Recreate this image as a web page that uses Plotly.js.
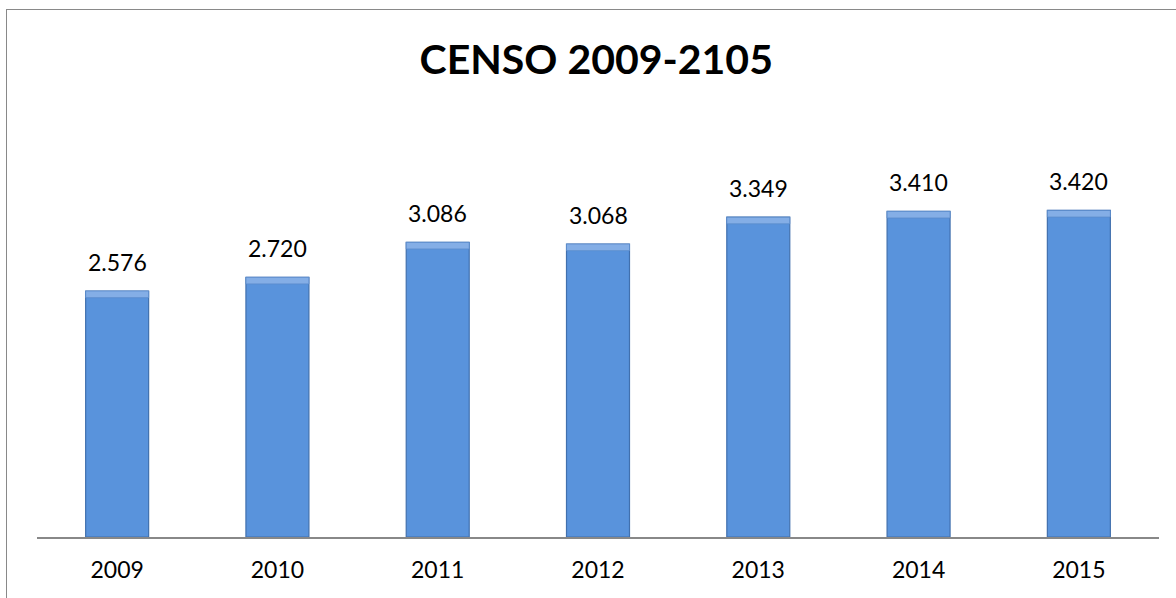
<!DOCTYPE html>
<html>
<head>
<meta charset="utf-8">
<script src="https://cdn.plot.ly/plotly-3.0.1.min.js"></script>
<style>
  html, body { margin: 0; padding: 0; background: #fff; }
  #chart { position: absolute; left: 0; top: 0; width: 1176px; height: 598px; }
  #frame { position: absolute; left: 6px; top: 9px; width: 1300px; height: 700px;
           border-left: 1.5px solid #898989; border-top: 1.5px solid #898989; pointer-events: none; }
</style>
</head>
<body>
<div id="chart"></div>
<div id="frame"></div>
<script>
const chartTitle = 'CENSO 2009-2105';
const years = ['2009', '2010', '2011', '2012', '2013', '2014', '2015'];
const censo = [2576, 2720, 3086, 3068, 3349, 3410, 3420];

function fmt(v) {
  return String(v).replace(/\B(?=(\d{3})+(?!\d))/g, '.');
}

const capSize = 70; // height of lighter bevel band, in data units
const bars = {
  type: 'bar', x: years, y: censo,
  marker: { color: '#5993DC', line: { color: '#4170AE', width: 1.2 } },
  hoverinfo: 'x+y', showlegend: false
};
const caps = {
  type: 'bar', x: years, y: censo.map(() => capSize), base: censo.map(v => v - capSize),
  marker: { color: '#84AEE6', line: { color: '#5A8CCB', width: 0.8 } },
  hoverinfo: 'skip', showlegend: false
};

const annotations = years.map((yr, i) => ({
  x: i, y: censo[i], xref: 'x', yref: 'y', text: fmt(censo[i]),
  showarrow: false, yanchor: 'bottom', yshift: 13,
  font: { family: 'Lato, sans-serif', size: 23, color: '#000' }
}));

const layout = {
  width: 1176, height: 598,
  margin: { l: 37, r: 17, t: 155, b: 61 },
  paper_bgcolor: '#fff', plot_bgcolor: '#fff',
  barmode: 'overlay', bargap: 0.607,
  title: { text: chartTitle, x: 0.507, xanchor: 'center', y: 0.9, yanchor: 'middle', yref: 'container',
           font: { family: 'Lato, sans-serif', size: 41, color: '#000', weight: 'bold' } },
  xaxis: { type: 'category', showline: true, linecolor: '#888', linewidth: 2, ticks: '',
           showgrid: false, zeroline: false, range: [-0.5, years.length - 0.5],
           tickfont: { family: 'Lato, sans-serif', size: 23, color: '#000' }, ticklabelstandoff: 11 },
  yaxis: { range: [0, 4000], visible: false, showgrid: false, zeroline: false },
  annotations: annotations
};

Plotly.newPlot('chart', [bars, caps], layout, { displayModeBar: false, staticPlot: true });
</script>
</body>
</html>
